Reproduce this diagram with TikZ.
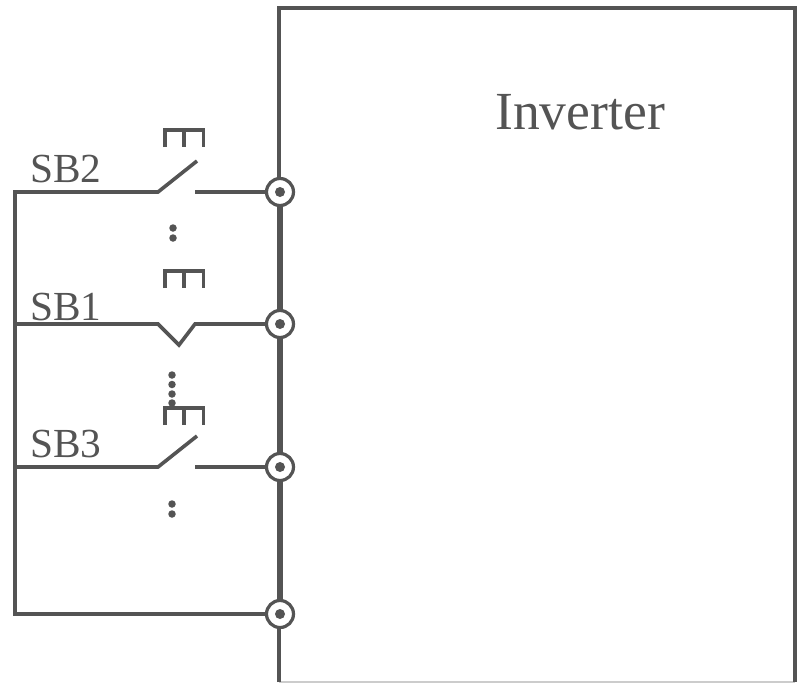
\documentclass[tikz,border=0pt]{standalone}
\usepackage{fontspec}
\setmainfont{Liberation Serif}
\definecolor{ink}{gray}{0.33}
\tikzset{
  x=0.75pt,y=-0.75pt,
  wire/.style={draw=ink,line width=2.7pt,line join=miter},
  thinwire/.style={draw=ink,line width=2.4pt,line join=miter},
  bus/.style={draw=ink,line width=4.2pt},
  terminal/.style={circle,draw=ink,fill=white,line width=2.4pt,minimum size=27*0.75pt,inner sep=0pt,outer sep=0pt},
  tdot/.style={circle,fill=ink,minimum size=10*0.75pt,inner sep=0pt},
  pdot/.style={circle,fill=ink,minimum size=7.5*0.75pt,inner sep=0pt},
  lab/.style={text=ink,font=\fontsize{31pt}{34pt}\selectfont,inner sep=0pt,anchor=base west},
}
\begin{document}
\begin{tikzpicture}
\useasboundingbox (0,0) rectangle (802,682);
\fill[white] (0,0) rectangle (802,682);
% inverter box
\coordinate (bl) at (279,682);
\coordinate (tl) at (279,8);
\coordinate (tr) at (795,8);
\coordinate (br) at (795,682);
\draw[draw=black!20,line width=1pt] (bl) -- (br);
\draw[thinwire] (bl) -- (tl) -- (tr) -- (br);
% terminals positions
\coordinate (T1) at (280,192);
\coordinate (T2) at (280,324);
\coordinate (T3) at (280,467);
\coordinate (T4) at (280,614);
\draw[bus] (T1) -- (T4);
% left rail and wires
\coordinate (L1) at (15,192);
\coordinate (L2) at (15,324);
\coordinate (L3) at (15,467);
\coordinate (L4) at (15,614);
\coordinate (a1) at (158,192);
\coordinate (b1) at (197,161);
\coordinate (c1) at (195,192);
\coordinate (a2) at (158,324);
\coordinate (b2) at (179,345);
\coordinate (c2) at (195,324);
\coordinate (a3) at (158,467);
\coordinate (b3) at (197,436);
\coordinate (c3) at (195,467);
\draw[wire] (b1) -- (a1) -- (L1) -- (L4) -- (T4);
\draw[wire] (L2) -- (a2) -- (b2) -- (c2) -- (T2);
\draw[wire] (L3) -- (a3) -- (b3);
\draw[wire] (c1) -- (T1);
\draw[wire] (c3) -- (T3);
% terminals
\foreach \t in {1,2,3,4}{
  \node[terminal] (N\t) at (T\t) {};
  \node[tdot] (D\t) at (T\t) {};
}
% push-button brackets
\foreach \y in {130,271,408}{
  \draw[wire] (165,\y+17) -- (165,\y) -- (203.5,\y) -- (203.5,\y+17);
  \draw[wire] (184,\y) -- (184,\y+17);
}
% dots
\foreach \x/\y in {173/228,173/238,172/375,172/384.5,172/394,172/403,172/504,172/514}{
  \node[pdot] at (\x,\y) {};
}
% labels
\node[lab] (sb2) at (30,182) {SB2};
\node[lab] (sb1) at (30,320) {SB1};
\node[lab] (sb3) at (30,457) {SB3};
\node[lab,font=\fontsize{40.2pt}{44pt}\selectfont] (inv) at (495,129) {Inverter};
\end{tikzpicture}
\end{document}
